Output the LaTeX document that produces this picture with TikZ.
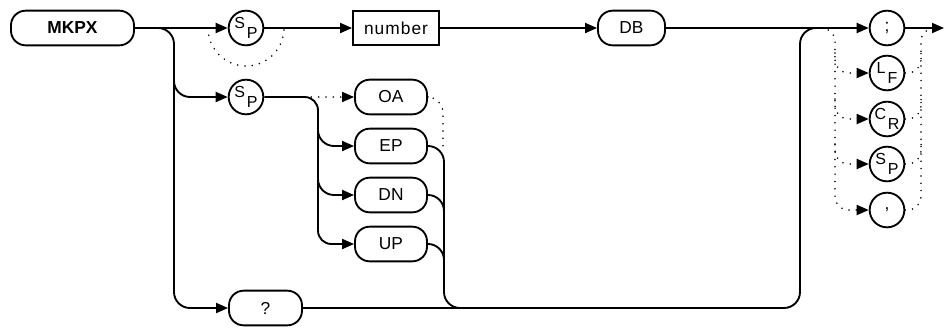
\documentclass[tikz,border=0pt]{standalone}
\usepackage{fontspec}
\setmainfont{Liberation Sans}
\usetikzlibrary{arrows.meta}
\newcommand{\twoletter}[2]{\raisebox{4pt}{#1}\kern1.4pt\raisebox{-4pt}{#2}}
\begin{document}
\begin{tikzpicture}[x=0.75pt,y=-0.75pt,
  line width=1.4pt,
  >={Triangle[length=9pt,width=7.5pt]},
  dots/.style={line width=1.3pt, dash pattern=on 0pt off 5.5pt, line cap=round},
  term/.style={draw, rounded corners=11pt, minimum height=26pt, inner sep=0pt, font=\fontsize{13}{15}\selectfont},
  rectbox/.style={draw, minimum height=26pt, inner sep=0pt, font=\fontsize{13}{15}\selectfont\addfontfeature{LetterSpace=6}},
  circ/.style={draw, circle, minimum size=26pt, inner sep=0pt, font=\fontsize{12}{13}\selectfont},
  bigcirc/.style={circ, font=\fontsize{13}{15}\selectfont},
]
\useasboundingbox (0,0) rectangle (945,329);
% nodes
\node[term, minimum width=92.25pt, font=\fontsize{13}{15}\selectfont\bfseries] (mkpx) at (72.5,28) {MKPX};
\node[circ] (spa) at (246,28) {\twoletter{S}{P}};
\node[rectbox, minimum width=64.5pt] (num) at (396,28) {number};
\node[term, minimum width=50.25pt] (db) at (631.5,28) {DB};
\node[bigcirc] (semi) at (887,28) {;};
\node[circ] (lf) at (887,73) {\twoletter{L}{F}};
\node[circ] (cr) at (887,119) {\twoletter{C}{R}};
\node[circ] (spc) at (887,164) {\twoletter{S}{P}};
\node[bigcirc] (comma) at (887,210) {,};
\node[circ] (spb) at (246,97) {\twoletter{S}{P}};
\node[term, minimum width=54pt] (oa) at (391,97) {OA};
\node[term, minimum width=54pt] (ep) at (391,146) {EP};
\node[term, minimum width=54pt] (dn) at (391,195) {DN};
\node[term, minimum width=54pt] (up) at (391,244) {UP};
\node[term, minimum width=54.75pt] (q) at (265.5,308) {?};
% coordinates
\coordinate (outend) at (944,28);
\coordinate (bpl) at (208,28);
\coordinate (ja) at (150,28);
\coordinate (jb) at (174,70);
\coordinate (jc) at (318,120);
\coordinate (jd) at (318,170);
\coordinate (je) at (304,97);
\coordinate (jf) at (822,28);
\coordinate (jg) at (470,308);
\coordinate (jh) at (830,28);
% top row
\draw[->] (mkpx) -- (spa);
\draw[dots] (bpl) arc[start angle=180, end angle=0, radius=38];
\draw[->] (spa) -- (num);
\draw[->] (num) -- (db);
\draw[->] (db) -- (semi);
\draw[->] (semi) -- (outend);
% left branches
\draw[->, rounded corners=12pt] (ja) -- (174,28) -- (174,308) -- (q.west);
\draw[->, rounded corners=12pt] (jb) |- (spb.west);
% second row
\draw[->, rounded corners=10pt] (spb.east) -- (318,97) -- (318,244) -- (up.west);
\draw[->, rounded corners=12pt] (jc) |- (ep.west);
\draw[->, rounded corners=12pt] (jd) |- (dn.west);
\draw[dots, ->] (je) -- (oa.west);
% right of options
\draw[dots, rounded corners=12pt] (oa.east) -- (443,97) -- (443,150);
\draw[rounded corners=12pt] (ep.east) -- (444,146) -- (444,308) -- (800,308) -- (800,28) -- (jh);
\draw[rounded corners=12pt] (dn.east) -- (444,195) -- (444,225);
\draw[rounded corners=12pt] (up.east) -- (444,244) -- (444,275);
\draw (q.east) -- (jg);
% terminator column
\draw[dots, ->, rounded corners=10pt] (jf) -- (835,28) -- (835,210) -- (comma.west);
\draw[dots, ->, rounded corners=10pt] (835,53) |- (lf.west);
\draw[dots, ->, rounded corners=10pt] (835,99) |- (cr.west);
\draw[dots, ->, rounded corners=10pt] (835,144) |- (spc.west);
\draw[dots, rounded corners=10pt] (comma.east) -- (921,210) -- (921,28) -- (933,28);
\draw[dots, rounded corners=10pt] (lf.east) -| (921,53);
\draw[dots, rounded corners=10pt] (cr.east) -| (921,99);
\draw[dots, rounded corners=10pt] (spc.east) -| (921,144);
\end{tikzpicture}
\end{document}
